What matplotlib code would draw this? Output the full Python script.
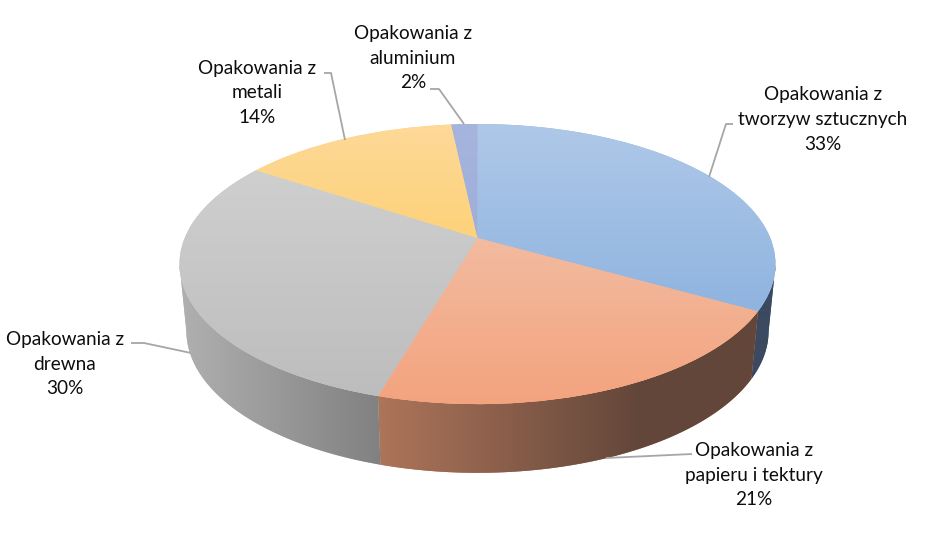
import numpy as np
import matplotlib
matplotlib.use("Agg")
import matplotlib.pyplot as plt
from matplotlib.transforms import Transform
from matplotlib.patches import Polygon
from matplotlib.colors import to_rgb

# ---- data ----
categories = ["Opakowania z\ntworzyw sztucznych", "Opakowania z\npapieru i tektury",
              "Opakowania z\ndrewna", "Opakowania z\nmetali", "Opakowania z\naluminium"]
shares = [33.2, 21.3, 29.8, 14.0, 1.7]
percent_labels = [33, 21, 30, 14, 2]

# ---- styles ----
top_upper = ["#AFC8E8", "#F2BBA0", "#CFCFCF", "#FDD998", "#A5B5DD"]
top_lower = ["#8FB4E0", "#F4A37E", "#BDBDBD", "#FDD27A", "#9FAEDA"]
wall_stops = [
    [(0, "#3B4A60"), (945, "#3B4A60")],
    [(383, "#AC7459"), (640, "#63463A"), (760, "#63463A")],
    [(180, "#B0B0B0"), (383, "#808080")],
    [(0, "#B09050"), (945, "#B09050")],
    [(0, "#606C90"), (945, "#606C90")],
]
label_xy = [(823, 119.5), (754, 475), (65, 364), (257, 93), (413, 58)]
leaders = [
    [(709, 177), (726, 124), (733, 124)],
    [(606, 458), (692, 454)],
    [(191, 353), (144, 343), (131, 343)],
    [(345, 140), (331, 73), (324, 73)],
    [(464, 124), (439, 89), (430, 89)],
]
CX, K = 477.5, 0.186
TOP = dict(cy=238.0, a=135.2, b=292.8)
BOTTOM = dict(cy=304.5, a=137.0, b=286.0)


def project(u, v, cy, a, b):
    d = 1 + K * v
    return CX + b * u / d, cy - a * v / d


class Perspective(Transform):
    input_dims = output_dims = 2
    is_separable = False
    has_inverse = False

    def transform_non_affine(self, values):
        values = np.asarray(values, dtype=float)
        x, y = project(values[:, 0], values[:, 1], **TOP)
        return np.column_stack([x, y])


W, H = 945, 552
fig = plt.figure(figsize=(W / 100, H / 100), dpi=100, facecolor="white")
ax = fig.add_axes([0, 0, 1, 1])
wedges, _ = ax.pie(shares, startangle=90, counterclock=False, radius=1)
ax.set_aspect("auto")
ax.set_xlim(0, W)
ax.set_ylim(H, 0)
ax.set_autoscale_on(False)
ax.axis("off")

xs = np.arange(W)
ys = np.arange(H)

# side walls: only the part of each slice's rim that faces the viewer
for w, stops in zip(wedges, wall_stops):
    t = np.radians(np.linspace(w.theta1, w.theta2, 400))
    t = t[np.sin(t) < -K]
    if t.size < 2:
        continue
    xt, yt = project(np.cos(t), np.sin(t), **TOP)
    xb, yb = project(np.cos(t), np.sin(t), **BOTTOM)
    verts = np.column_stack([np.r_[xt, xb[::-1]], np.r_[yt, yb[::-1]]])
    sx = [s[0] for s in stops]
    cols = np.array([to_rgb(s[1]) for s in stops])
    grad = np.stack([np.interp(xs, sx, cols[:, i]) for i in range(3)], axis=-1)[None, :, :]
    poly = Polygon(verts, closed=True, facecolor=cols[0], edgecolor="none", zorder=1)
    ax.add_patch(poly)
    im = ax.imshow(grad, extent=(0, W, H, 0), aspect="auto", zorder=1, interpolation="bilinear")
    im.set_clip_path(poly)

# top surfaces
persp = Perspective() + ax.transData
for w, up, lo in zip(wedges, top_upper, top_lower):
    w.set_transform(persp)
    w.set_facecolor(lo)
    w.set_edgecolor("none")
    w.set_zorder(2)
    bbox = w.get_path().transformed(w.get_patch_transform() + Perspective()).get_extents()
    u, l = np.array(to_rgb(up)), np.array(to_rgb(lo))
    f = np.clip((ys - bbox.y0) / (bbox.y1 - bbox.y0), 0, 1)[:, None]
    grad = (u * (1 - f) + l * f)[:, None, :]
    im = ax.imshow(grad, extent=(0, W, H, 0), aspect="auto", zorder=2, interpolation="bilinear")
    im.set_clip_path(w)

# leader lines and labels
for path in leaders:
    p = np.array(path)
    ax.plot(p[:, 0], p[:, 1], color="#A6A6A6", lw=1.3, zorder=3, solid_capstyle="butt")
for cat, pct, (x, y) in zip(categories, percent_labels, label_xy):
    ax.text(x, y, f"{cat}\n{pct}%", ha="center", va="center", ma="center",
            family="Lato", fontsize=13.65, color="#0D0D0D", linespacing=1.57, zorder=4)

fig.savefig("out.png", dpi=100)
